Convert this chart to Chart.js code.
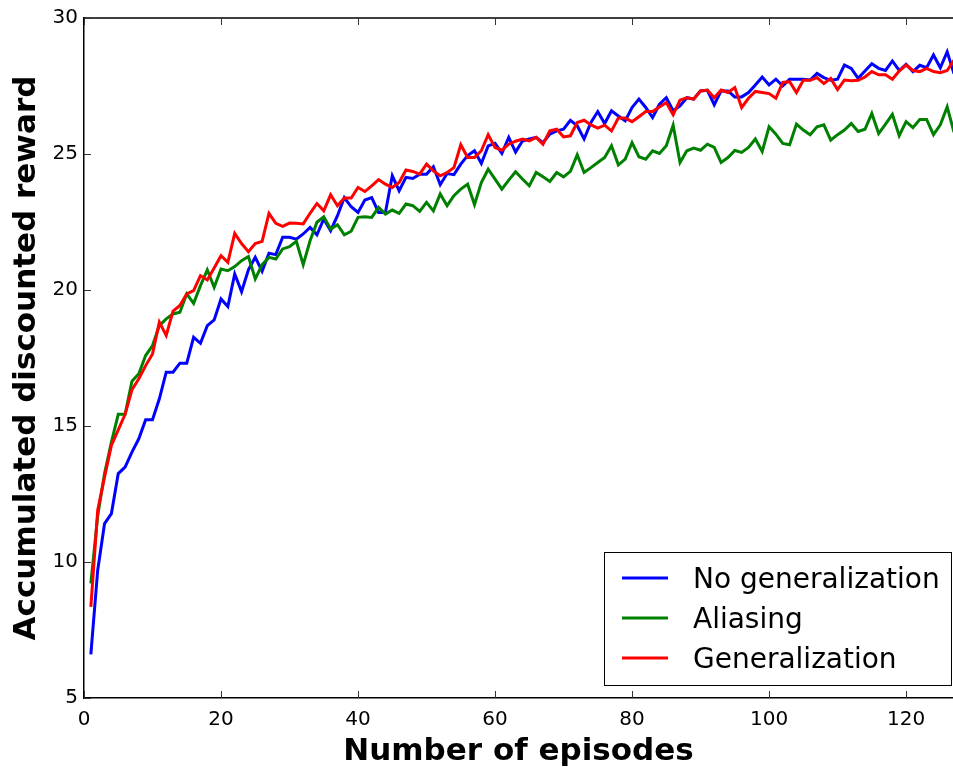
<!DOCTYPE html>
<html>
<head>
<meta charset="utf-8">
<script src="https://cdn.jsdelivr.net/npm/chart.js@4.4.0/dist/chart.umd.min.js"></script>
<style>
  html, body { margin: 0; padding: 0; background: #fff; }
  #wrap { width: 953px; height: 767px; position: relative; }
</style>
</head>
<body>
<div id="wrap"><canvas id="rewardChart"></canvas></div>
<script>
// episode numbers (x) and accumulated discounted reward per method
const episodes = [
  1, 2, 3, 4, 5, 6, 7, 8, 9, 10, 11, 12, 13, 14, 15, 16, 17, 18, 19, 20,
  21, 22, 23, 24, 25, 26, 27, 28, 29, 30, 31, 32, 33, 34, 35, 36, 37, 38, 39, 40,
  41, 42, 43, 44, 45, 46, 47, 48, 49, 50, 51, 52, 53, 54, 55, 56, 57, 58, 59, 60,
  61, 62, 63, 64, 65, 66, 67, 68, 69, 70, 71, 72, 73, 74, 75, 76, 77, 78, 79, 80,
  81, 82, 83, 84, 85, 86, 87, 88, 89, 90, 91, 92, 93, 94, 95, 96, 97, 98, 99, 100,
  101, 102, 103, 104, 105, 106, 107, 108, 109, 110, 111, 112, 113, 114, 115, 116, 117, 118, 119, 120,
  121, 122, 123, 124, 125, 126, 127
];

const noGeneralization = [
  6.60, 9.70, 11.41, 11.78, 13.25, 13.49, 14.04, 14.53, 15.23, 15.23,
  16.00, 16.98, 16.98, 17.31, 17.31, 18.26, 18.04, 18.69, 18.90, 19.67,
  19.39, 20.59, 19.94, 20.74, 21.20, 20.69, 21.35, 21.30, 21.94, 21.94,
  21.87, 22.06, 22.30, 22.03, 22.61, 22.18, 22.73, 23.40, 23.06, 22.85,
  23.31, 23.40, 22.85, 22.85, 24.20, 23.65, 24.14, 24.10, 24.26, 24.26,
  24.53, 23.87, 24.28, 24.24, 24.63, 24.94, 25.12, 24.65, 25.30, 25.39,
  25.02, 25.61, 25.07, 25.48, 25.55, 25.61, 25.42, 25.73, 25.85, 25.91,
  26.24, 26.04, 25.55, 26.16, 26.56, 26.12, 26.59, 26.40, 26.22, 26.71,
  27.02, 26.71, 26.34, 26.83, 27.07, 26.59, 26.77, 27.07, 27.02, 27.32,
  27.34, 26.81, 27.32, 27.32, 27.10, 27.10, 27.26, 27.54, 27.83, 27.54,
  27.75, 27.50, 27.75, 27.75, 27.75, 27.72, 27.96, 27.81, 27.71, 27.75,
  28.27, 28.15, 27.78, 28.05, 28.32, 28.15, 28.07, 28.42, 28.07, 28.30,
  28.03, 28.26, 28.17, 28.64, 28.17, 28.76, 27.95
];

const aliasing = [
  9.21, 11.70, 13.25, 14.41, 15.43, 15.43, 16.65, 16.92, 17.59, 17.96,
  18.69, 18.94, 19.12, 19.18, 19.86, 19.51, 20.16, 20.74, 20.10, 20.77,
  20.71, 20.86, 21.08, 21.23, 20.41, 20.93, 21.20, 21.14, 21.51, 21.59,
  21.79, 20.93, 21.81, 22.49, 22.69, 22.24, 22.40, 22.03, 22.16, 22.67,
  22.69, 22.67, 23.04, 22.79, 22.94, 22.82, 23.16, 23.10, 22.89, 23.22,
  22.91, 23.53, 23.10, 23.47, 23.71, 23.89, 23.14, 23.95, 24.44, 24.08,
  23.71, 24.04, 24.35, 24.08, 23.83, 24.32, 24.16, 23.99, 24.32, 24.16,
  24.36, 24.97, 24.32, 24.50, 24.69, 24.87, 25.30, 24.60, 24.81, 25.42,
  24.90, 24.81, 25.12, 25.02, 25.30, 26.06, 24.69, 25.12, 25.22, 25.14,
  25.36, 25.24, 24.69, 24.87, 25.13, 25.06, 25.24, 25.55, 25.09, 26.00,
  25.73, 25.39, 25.34, 26.10, 25.88, 25.71, 26.00, 26.07, 25.51, 25.71,
  25.88, 26.12, 25.83, 25.91, 26.49, 25.75, 26.10, 26.46, 25.67, 26.19,
  25.97, 26.27, 26.27, 25.71, 26.07, 26.73, 25.80
];

const generalization = [
  8.35, 11.90, 13.13, 14.29, 14.86, 15.43, 16.33, 16.74, 17.22, 17.65,
  18.82, 18.33, 19.22, 19.43, 19.86, 19.98, 20.53, 20.37, 20.81, 21.26,
  21.02, 22.08, 21.71, 21.41, 21.71, 21.79, 22.82, 22.45, 22.34, 22.46,
  22.45, 22.43, 22.82, 23.18, 22.91, 23.50, 23.10, 23.38, 23.38, 23.77,
  23.62, 23.83, 24.06, 23.89, 23.77, 23.95, 24.41, 24.36, 24.26, 24.63,
  24.38, 24.20, 24.32, 24.50, 25.34, 24.87, 24.87, 25.12, 25.71, 25.24,
  25.14, 25.36, 25.47, 25.55, 25.48, 25.61, 25.36, 25.85, 25.91, 25.63,
  25.67, 26.16, 26.24, 26.07, 25.95, 26.06, 25.85, 26.32, 26.32, 26.19,
  26.37, 26.56, 26.56, 26.73, 26.89, 26.44, 26.98, 27.07, 27.02, 27.32,
  27.35, 27.07, 27.35, 27.26, 27.44, 26.71, 27.05, 27.30, 27.26, 27.22,
  27.05, 27.63, 27.66, 27.26, 27.71, 27.71, 27.81, 27.59, 27.78, 27.37,
  27.72, 27.69, 27.71, 27.83, 28.03, 27.91, 27.91, 27.75, 28.05, 28.27,
  28.07, 28.03, 28.15, 28.03, 27.99, 28.07, 28.45
];

const xTicks = [0, 20, 40, 60, 80, 100, 120];
const yTicks = [5, 10, 15, 20, 25, 30];
const xMin = 0, xMax = 126.85;
const yMin = 5, yMax = 30;

const FONT = '"DejaVu Sans", sans-serif';

function toPoints(values) {
    return values.map((v, i) => ({ x: episodes[i], y: v }));
}

// matplotlib-style frame: top spine plus inward tick marks
const framePlugin = {
    id: 'frame',
    afterDraw(chart) {
        const { ctx, chartArea: a, scales } = chart;
        ctx.save();
        ctx.strokeStyle = '#000';
        ctx.lineWidth = 1.5;
        ctx.beginPath();
        ctx.moveTo(a.left, a.top);
        ctx.lineTo(a.right, a.top);
        ctx.stroke();

        ctx.lineWidth = 1;
        ctx.strokeStyle = '#333';
        ctx.beginPath();
        xTicks.forEach(v => {
            const px = Math.round(scales.x.getPixelForValue(v)) + 0.5;
            ctx.moveTo(px, a.bottom); ctx.lineTo(px, a.bottom - 7);
            ctx.moveTo(px, a.top);    ctx.lineTo(px, a.top + 7);
        });
        yTicks.forEach(v => {
            const py = Math.round(scales.y.getPixelForValue(v)) + 0.5;
            ctx.moveTo(a.left, py); ctx.lineTo(a.left + 7, py);
        });
        ctx.stroke();
        ctx.restore();
    }
};

// boxed legend in the lower right corner
const legendPlugin = {
    id: 'boxLegend',
    afterDraw(chart) {
        const ctx = chart.ctx;
        ctx.save();
        ctx.fillStyle = '#fff';
        ctx.fillRect(604.5, 552.5, 347, 133);
        ctx.strokeStyle = '#000';
        ctx.lineWidth = 1;
        ctx.strokeRect(604.5, 552.5, 347, 133);
        ctx.font = '28px ' + FONT;
        ctx.textBaseline = 'middle';
        ctx.textAlign = 'left';
        chart.data.datasets.forEach((ds, i) => {
            const y = 578 + i * 40;
            ctx.strokeStyle = ds.borderColor;
            ctx.lineWidth = 3;
            ctx.beginPath();
            ctx.moveTo(622, y);
            ctx.lineTo(668, y);
            ctx.stroke();
            ctx.fillStyle = '#000';
            ctx.fillText(ds.label, 693, y + 3);
        });
        ctx.restore();
    }
};

document.addEventListener('DOMContentLoaded', function () {
    const ctx = document.getElementById('rewardChart');

    new Chart(ctx, {
        type: 'line',
        data: {
            datasets: [
                { label: 'No generalization', data: toPoints(noGeneralization), borderColor: '#0000ff', order: 2 },
                { label: 'Aliasing',          data: toPoints(aliasing),         borderColor: '#008000', order: 1 },
                { label: 'Generalization',    data: toPoints(generalization),   borderColor: '#ff0000', order: 0 }
            ]
        },
        options: {
            responsive: true,
            maintainAspectRatio: false,
            animation: false,
            events: [],
            layout: { padding: { top: 15, right: 0, bottom: 0, left: 0 } },
            elements: {
                line: { borderWidth: 3, tension: 0, fill: false, borderCapStyle: 'butt', borderJoinStyle: 'miter' },
                point: { radius: 0 }
            },
            plugins: { legend: { display: false }, tooltip: { enabled: false } },
            scales: {
                x: {
                    type: 'linear',
                    min: xMin,
                    max: xMax,
                    afterBuildTicks: axis => { axis.ticks = xTicks.map(v => ({ value: v })); },
                    afterFit: s => { s.height = 69; },
                    grid: { display: false, drawTicks: false },
                    border: { display: true, color: '#000', width: 1.5 },
                    ticks: { color: '#000', font: { family: FONT, size: 20 }, padding: 10, maxRotation: 0, autoSkip: false },
                    title: {
                        display: true,
                        text: 'Number of episodes',
                        color: '#000',
                        font: { family: FONT, size: 31, weight: 'bold', lineHeight: 1 },
                        padding: { top: 0, bottom: 0 }
                    }
                },
                y: {
                    min: yMin,
                    max: yMax,
                    afterBuildTicks: axis => { axis.ticks = yTicks.map(v => ({ value: v })); },
                    afterFit: s => { s.width = 84; },
                    grid: { display: false, drawTicks: false },
                    border: { display: true, color: '#000', width: 1.5 },
                    ticks: { color: '#000', font: { family: FONT, size: 20 }, padding: 6 },
                    title: {
                        display: true,
                        text: 'Accumulated discounted reward',
                        color: '#000',
                        font: { family: FONT, size: 31, weight: 'bold', lineHeight: 1 },
                        padding: { top: 11, bottom: 0 }
                    }
                }
            }
        },
        plugins: [framePlugin, legendPlugin]
    });
});
</script>
</body>
</html>
